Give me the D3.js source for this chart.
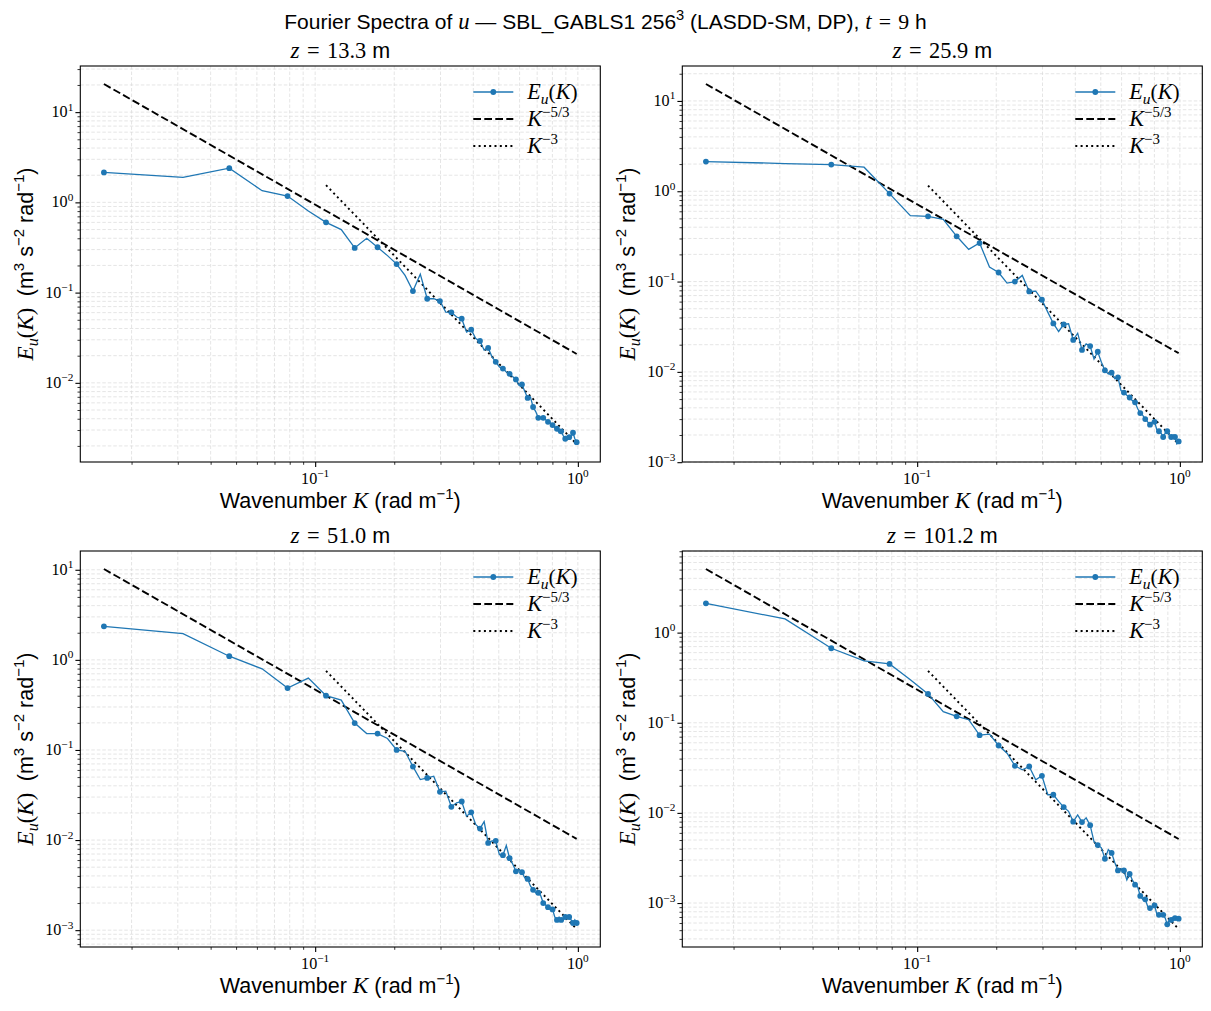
<!DOCTYPE html>
<meta charset="utf-8">
<script src="https://d3js.org/d3.v7.min.js"></script>
<style>
  body { margin: 0; background: #fff; }
  text { white-space: pre; }
</style>
<body>
<div id="my_dataviz"></div>
<script>

// Wavenumbers K (rad m^-1), shared by the four panels
var wavenumber = [0.0157, 0.0314, 0.0471, 0.0628, 0.0785, 0.0942, 0.1100, 0.1257, 0.1414, 0.1571,
  0.1728, 0.1885, 0.2042, 0.2199, 0.2356, 0.2513, 0.2670, 0.2827, 0.2985, 0.3142,
  0.3299, 0.3456, 0.3613, 0.3770, 0.3927, 0.4084, 0.4241, 0.4398, 0.4555, 0.4712,
  0.4869, 0.5027, 0.5184, 0.5341, 0.5498, 0.5655, 0.5812, 0.5969, 0.6126, 0.6283,
  0.6440, 0.6597, 0.6754, 0.6912, 0.7069, 0.7226, 0.7383, 0.7540, 0.7697, 0.7854,
  0.8011, 0.8168, 0.8325, 0.8482, 0.8639, 0.8796, 0.8954, 0.9111, 0.9268, 0.9425,
  0.9582, 0.9739, 0.9896];

var heights = ["13.3", "25.9", "51.0", "101.2"];

// E_u(K) at each height
var spectrum_z13 = [2.145, 1.889, 2.395, 1.346, 1.175, 0.802, 0.601, 0.499, 0.313, 0.400,
  0.318, 0.257, 0.207, 0.155, 0.104, 0.160, 0.0855, 0.0855, 0.0806, 0.0609,
  0.0604, 0.0536, 0.0514, 0.0366, 0.0388, 0.0309, 0.0291, 0.0230, 0.0244, 0.0194,
  0.0171, 0.0150, 0.0144, 0.0132, 0.0126, 0.0117, 0.0109, 0.0094, 0.0096, 0.0080,
  0.0068, 0.0070, 0.0054, 0.0048, 0.0041, 0.0041, 0.0041, 0.0039, 0.0037, 0.0036,
  0.0034, 0.0032, 0.0031, 0.0028, 0.0029, 0.0026, 0.0024, 0.0025, 0.0025, 0.0025,
  0.0028, 0.0024, 0.0022];

var spectrum_z26 = [2.133, 2.027, 1.976, 1.846, 0.942, 0.537, 0.528, 0.489, 0.317, 0.227,
  0.267, 0.145, 0.126, 0.0962, 0.100, 0.117, 0.0778, 0.0785, 0.0629, 0.0459,
  0.0344, 0.0280, 0.0335, 0.0341, 0.0226, 0.0268, 0.0175, 0.0204, 0.0193, 0.0139,
  0.0167, 0.0128, 0.0104, 0.0095, 0.0098, 0.0084, 0.0087, 0.0062, 0.0059, 0.0055,
  0.0052, 0.0048, 0.0046, 0.0039, 0.0035, 0.0033, 0.0030, 0.0028, 0.0026, 0.0028,
  0.0028, 0.0023, 0.0022, 0.0021, 0.0019, 0.0021, 0.0022, 0.0020, 0.0019, 0.0020,
  0.0019, 0.0016, 0.0017];

var spectrum_z51 = [2.359, 1.957, 1.098, 0.795, 0.486, 0.627, 0.400, 0.358, 0.199, 0.152,
  0.152, 0.134, 0.100, 0.0966, 0.0654, 0.0469, 0.0490, 0.0511, 0.0343, 0.0349,
  0.0234, 0.0259, 0.0268, 0.0184, 0.0203, 0.0149, 0.0134, 0.0160, 0.0093, 0.0098,
  0.0098, 0.0069, 0.0068, 0.0087, 0.0063, 0.0054, 0.0045, 0.0047, 0.0044, 0.0038,
  0.0037, 0.0031, 0.0028, 0.0026, 0.0026, 0.0024, 0.0020, 0.0019, 0.0018, 0.0017,
  0.0017, 0.0014, 0.0013, 0.0014, 0.0013, 0.0013, 0.0014, 0.0014, 0.0014, 0.0013,
  0.0012, 0.0013, 0.0012];

var spectrum_z101 = [2.114, 1.417, 0.671, 0.485, 0.450, 0.300, 0.209, 0.133, 0.118, 0.108,
  0.0728, 0.0747, 0.0559, 0.0460, 0.0333, 0.0301, 0.0327, 0.0233, 0.0258, 0.0159,
  0.0159, 0.0134, 0.0116, 0.0104, 0.0080, 0.0095, 0.0079, 0.0088, 0.0073, 0.0048,
  0.0044, 0.0041, 0.0031, 0.0039, 0.0036, 0.0028, 0.0023, 0.0024, 0.0023, 0.0018,
  0.0021, 0.0018, 0.0016, 0.0015, 0.0012, 0.0011, 0.0011, 0.00092, 0.00088, 0.00092,
  0.00094, 0.00076, 0.00074, 0.00076, 0.00074, 0.00068, 0.00058, 0.00065, 0.00065, 0.00069,
  0.00068, 0.00067, 0.00067];

var spectra = [spectrum_z13, spectrum_z26, spectrum_z51, spectrum_z101];

// reference slopes: [value at first K, value at last K]
var kolmogorovEnds = [[20.5, 0.0209], [15.4, 0.0161], [10.2, 0.0103], [5.08, 0.00513]];
var cubicEnds = [[1.55, 0.00210], [1.156, 0.00159], [0.755, 0.00103], [0.376, 0.000515]];
var cubicStartK = 0.1100;

// major tick values
var xMajorTicks = [0.1, 1];
var yMajorTicks = [[10, 1, 0.1, 0.01], [10, 1, 0.1, 0.01, 0.001],
                   [10, 1, 0.1, 0.01, 0.001], [1, 0.1, 0.01, 0.001]];

var sansFont = "'Liberation Sans', Arial, sans-serif";
var serifFont = "'Liberation Serif', 'Times New Roman', serif";

var W = 1211, H = 1011;
var pw = 520, ph = 396;
var panels = [{left: 80.3, top: 66}, {left: 682.3, top: 66},
              {left: 80.3, top: 551}, {left: 682.3, top: 551}];

var svg = d3.select("#my_dataviz")
  .append("svg")
    .attr("width", W)
    .attr("height", H)
    .style("display", "block");

// write mixed text: f "m" = math italic, "r" = serif, default sans; s = sup/sub
function rich(sel, parts, size) {
  var shift = 0;
  parts.forEach(function(p) {
    var ts = sel.append("tspan").text(p.t);
    var fs = size;
    ts.style("font-family", p.f ? serifFont : sansFont);
    if (p.f === "m") { ts.style("font-style", "italic"); fs = size * 1.08; }
    if (p.f === "r") fs = size * 1.04;
    var target = p.s === "sup" ? -0.42 * size : p.s === "sub" ? 0.22 * size : 0;
    ts.attr("dy", target - shift);
    shift = target;
    ts.style("font-size", (p.s ? fs * 0.7 : fs) + "px");
  });
}

function expLabel(v) {
  var e = Math.round(Math.log10(v));
  return e < 0 ? "\u2212" + (-e) : "" + e;
}

// log-axis domain with 5% margins, like matplotlib autoscale
function logDomain(lo, hi) {
  var a = Math.log10(lo), b = Math.log10(hi), m = 0.05 * (b - a);
  return [Math.pow(10, a - m), Math.pow(10, b + m)];
}

// Suptitle
var sup = svg.append("text")
  .attr("x", W / 2).attr("y", 29)
  .attr("text-anchor", "middle")
  .attr("fill", "#000");
rich(sup, [{t: "Fourier Spectra of "}, {t: "u", f: "m"}, {t: " \u2014 SBL_GABLS1 256"},
  {t: "3", s: "sup"}, {t: " (LASDD-SM, DP), "}, {t: "t", f: "m"}, {t: "\u2004=\u20049", f: "r"},
  {t: " h"}], 21);

spectra.forEach(function(values, i) {
  var p = panels[i];
  var g = svg.append("g")
    .attr("transform", "translate(" + p.left + "," + p.top + ")");

  var data = wavenumber.map(function(k, j) { return {k: k, e: values[j]}; });
  var kLast = wavenumber[wavenumber.length - 1];
  var ref53 = [{k: wavenumber[0], e: kolmogorovEnds[i][0]}, {k: kLast, e: kolmogorovEnds[i][1]}];
  var ref3 = [{k: cubicStartK, e: cubicEnds[i][0]}, {k: kLast, e: cubicEnds[i][1]}];

  var allE = values.concat(kolmogorovEnds[i]).concat(cubicEnds[i]);

  var x = d3.scaleLog()
    .domain(logDomain(d3.min(wavenumber), d3.max(wavenumber)))
    .range([0, pw]);
  var y = d3.scaleLog()
    .domain(logDomain(d3.min(allE), d3.max(allE)))
    .range([ph, 0]);

  var xMinor = x.ticks().filter(function(v) { return xMajorTicks.indexOf(v) < 0; });
  var yMinor = y.ticks().filter(function(v) {
    return yMajorTicks[i].every(function(m) { return Math.abs(m - v) / m > 1e-6; });
  });

  // grid (major and minor)
  var grid = g.append("g")
    .attr("stroke", "#dadada")
    .attr("stroke-width", 0.7)
    .attr("stroke-dasharray", "3.5,2");
  grid.selectAll("line.gx")
    .data(xMajorTicks.concat(xMinor))
    .enter().append("line")
      .attr("x1", function(d) { return x(d); }).attr("x2", function(d) { return x(d); })
      .attr("y1", 0).attr("y2", ph);
  grid.selectAll("line.gy")
    .data(yMajorTicks[i].concat(yMinor))
    .enter().append("line")
      .attr("x1", 0).attr("x2", pw)
      .attr("y1", function(d) { return y(d); }).attr("y2", function(d) { return y(d); });

  // reference lines
  var line = d3.line()
    .x(function(d) { return x(d.k); })
    .y(function(d) { return y(d.e); });

  g.append("path")
    .datum(ref53)
    .attr("fill", "none")
    .attr("stroke", "#000")
    .attr("stroke-width", 1.9)
    .attr("stroke-dasharray", "7.7,3.3")
    .attr("d", line);

  g.append("path")
    .datum(ref3)
    .attr("fill", "none")
    .attr("stroke", "#000")
    .attr("stroke-width", 1.9)
    .attr("stroke-dasharray", "2,3.3")
    .attr("d", line);

  // spectrum
  g.append("path")
    .datum(data)
    .attr("fill", "none")
    .attr("stroke", "#1f77b4")
    .attr("stroke-width", 1.3)
    .attr("d", line);

  g.selectAll("circle.pt")
    .data(data.filter(function(d, j) { return j % 2 === 0; }))
    .enter().append("circle")
      .attr("class", "pt")
      .attr("cx", function(d) { return x(d.k); })
      .attr("cy", function(d) { return y(d.e); })
      .attr("r", 2.9)
      .attr("fill", "#1f77b4");

  // frame
  g.append("rect")
    .attr("width", pw).attr("height", ph)
    .attr("fill", "none")
    .attr("stroke", "#000")
    .attr("stroke-width", 1.1);

  // ticks
  function styleAxis(a) {
    a.select(".domain").remove();
    a.selectAll(".tick line").attr("stroke", "#000");
  }
  g.append("g").attr("transform", "translate(0," + ph + ")")
    .call(d3.axisBottom(x).tickValues(xMajorTicks).tickSize(4.9).tickFormat(""))
    .call(styleAxis).selectAll(".tick line").attr("stroke-width", 1.1);
  g.append("g").attr("transform", "translate(0," + ph + ")")
    .call(d3.axisBottom(x).tickValues(xMinor).tickSize(2.8).tickFormat(""))
    .call(styleAxis).selectAll(".tick line").attr("stroke-width", 0.8);
  g.append("g")
    .call(d3.axisLeft(y).tickValues(yMajorTicks[i]).tickSize(4.9).tickFormat(""))
    .call(styleAxis).selectAll(".tick line").attr("stroke-width", 1.1);
  g.append("g")
    .call(d3.axisLeft(y).tickValues(yMinor).tickSize(2.8).tickFormat(""))
    .call(styleAxis).selectAll(".tick line").attr("stroke-width", 0.8);

  // tick labels
  xMajorTicks.forEach(function(v) {
    var t = g.append("text")
      .attr("x", x(v)).attr("y", ph + 22)
      .attr("text-anchor", "middle");
    rich(t, [{t: "10", f: "r"}, {t: expLabel(v), f: "r", s: "sup"}], 15.5);
  });
  yMajorTicks[i].forEach(function(v) {
    var t = g.append("text")
      .attr("x", -7).attr("y", y(v) + 5)
      .attr("text-anchor", "end");
    rich(t, [{t: "10", f: "r"}, {t: expLabel(v), f: "r", s: "sup"}], 15.5);
  });

  // title and axis labels
  var tt = g.append("text")
    .attr("x", pw / 2).attr("y", -8)
    .attr("text-anchor", "middle");
  rich(tt, [{t: "z", f: "m"}, {t: "\u2004=\u2004" + heights[i], f: "r"}, {t: " m"}], 21.5);

  var xl = g.append("text")
    .attr("x", pw / 2).attr("y", ph + 46)
    .attr("text-anchor", "middle");
  rich(xl, [{t: "Wavenumber "}, {t: "K", f: "m"}, {t: " (rad m"}, {t: "\u22121", s: "sup"},
    {t: ")"}], 21.5);

  var yl = g.append("text")
    .attr("transform", "translate(-47," + (ph / 2) + ") rotate(-90)")
    .attr("text-anchor", "middle");
  rich(yl, [{t: "E", f: "m"}, {t: "u", f: "m", s: "sub"}, {t: "(", f: "r"}, {t: "K", f: "m"},
    {t: ") ", f: "r"}, {t: " (m"}, {t: "3", s: "sup"}, {t: " s"}, {t: "\u22122", s: "sup"},
    {t: " rad"}, {t: "\u22121", s: "sup"}, {t: ")"}], 21.5);

  // legend
  var lg = g.append("g").attr("transform", "translate(" + (pw - 127) + ",0)");
  var rows = [26, 53, 80];
  lg.append("line").attr("x1", 0).attr("x2", 40).attr("y1", rows[0]).attr("y2", rows[0])
    .attr("stroke", "#1f77b4").attr("stroke-width", 1.3);
  lg.append("circle").attr("cx", 20).attr("cy", rows[0]).attr("r", 2.9).attr("fill", "#1f77b4");
  lg.append("line").attr("x1", 0).attr("x2", 40).attr("y1", rows[1]).attr("y2", rows[1])
    .attr("stroke", "#000").attr("stroke-width", 1.9).attr("stroke-dasharray", "7.7,3.3");
  lg.append("line").attr("x1", 0).attr("x2", 40).attr("y1", rows[2]).attr("y2", rows[2])
    .attr("stroke", "#000").attr("stroke-width", 1.9).attr("stroke-dasharray", "2,3.3");

  var legendTexts = [
    [{t: "E", f: "m"}, {t: "u", f: "m", s: "sub"}, {t: "(", f: "r"}, {t: "K", f: "m"}, {t: ")", f: "r"}],
    [{t: "K", f: "m"}, {t: "\u22125/3", f: "r", s: "sup"}],
    [{t: "K", f: "m"}, {t: "\u22123", f: "r", s: "sup"}]
  ];
  legendTexts.forEach(function(parts, r) {
    var t = lg.append("text").attr("x", 54).attr("y", rows[r] + 7);
    rich(t, parts, 20.5);
  });
});

</script>
</body>
